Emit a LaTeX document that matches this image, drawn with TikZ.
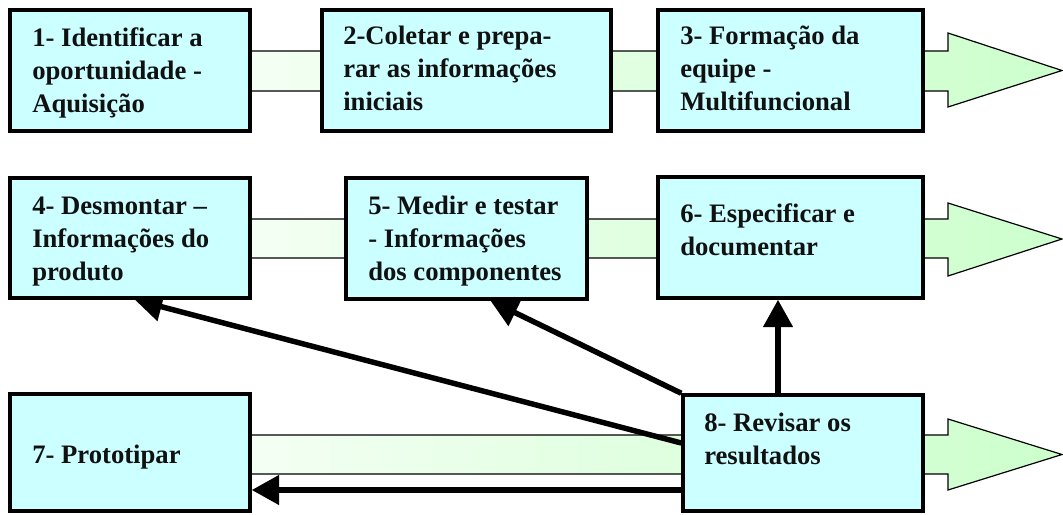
\documentclass[tikz,border=0pt]{standalone}
\usepackage{fontspec}
\setmainfont{Liberation Serif}
\usetikzlibrary{arrows.meta,fit,calc}
\definecolor{boxfill}{HTML}{CCFFFF}
\definecolor{bandgreen}{HTML}{CCFFCC}
\definecolor{ink}{HTML}{111111}
\pgfdeclarelayer{bands}
\pgfdeclarelayer{links}
\pgfsetlayers{bands,links,main}
\tikzset{
  stepbox/.style={draw=black, line width=2.6pt, fill=boxfill, inner sep=0pt},
  % anchored at the baseline of the last line
  steptext/.style={anchor=base west, inner sep=0pt, align=left, text=ink,
    font={\bfseries\fontsize{20}{24.4}\selectfont}},
  flowband/.style={draw=black, line width=0.9pt, left color=white, right color=bandgreen},
  backlink/.style={draw=black, line width=4.1pt,
    -{Triangle[length=20.5pt, width=21.5pt]}}
}
\begin{document}
\begin{tikzpicture}[x=0.75pt, y=-0.75pt]
\useasboundingbox (0,0) rectangle (1063,514);

% step boxes
\node[stepbox, fit={(10,10) (250,131)}] (b1) {};
\node[stepbox, fit={(322,10) (611,131)}] (b2) {};
\node[stepbox, fit={(658,10) (923,131)}] (b3) {};
\node[stepbox, fit={(10,178) (250,298)}] (b4) {};
\node[stepbox, fit={(346,178) (587,299)}] (b5) {};
\node[stepbox, fit={(658,177) (923,298)}] (b6) {};
\node[stepbox, fit={(10,394) (250,511)}] (b7) {};
\node[stepbox, fit={(683,395) (923,511)}] (b8) {};

% step texts
\node[steptext] (t1) at (32,112) {1- Identificar a\\oportunidade -\\Aquisição};
\node[steptext] (t2) at (343,110) {2-Coletar e prepa-\\rar as informações\\iniciais};
\node[steptext] (t3) at (680,110) {3- Formação da\\equipe -\\Multifuncional};
\node[steptext] (t4) at (32,280) {4- Desmontar –\\Informações do\\produto};
\node[steptext] (t5) at (368,280) {5- Medir e testar\\- Informações\\dos componentes};
\node[steptext] (t6) at (680,255.5) {6- Especificar e\\documentar};
\node[steptext] (t7) at (32,463) {7- Prototipar};
\node[steptext] (t8) at (704,464.5) {8- Revisar os\\resultados};

% flow bands with arrow heads, behind the boxes
\begin{pgfonlayer}{bands}
  \path[flowband] (10,51) -- (948,51) -- (948,33) -- (1062,70.5) -- (948,107)
    -- (948,91) -- (10,91) -- cycle;
  \path[flowband] (10,219) -- (948,219) -- (948,203) -- (1062,239) -- (948,276)
    -- (948,258) -- (10,258) -- cycle;
  \path[flowband] (10,435) -- (948,435) -- (948,419) -- (1062,454.5) -- (948,490)
    -- (948,474) -- (10,474) -- cycle;
\end{pgfonlayer}

% feedback links from step 8
\coordinate (y4) at (0,443);
\coordinate (y7) at (0,490);
\coordinate (x6) at (778,0);
\begin{pgfonlayer}{links}
  \draw[backlink] (b8.west |- y4) -- ($(b4.south west)!0.52!(b4.south east)$);
  \draw[backlink] (b8.north west) -- ($(b5.south west)!0.598!(b5.south east)$);
  \draw[backlink] (b8.north -| x6) -- (b6.south -| x6);
  \draw[backlink] (b8.west |- y7) -- (b7.east |- y7);
\end{pgfonlayer}
\end{tikzpicture}
\end{document}
